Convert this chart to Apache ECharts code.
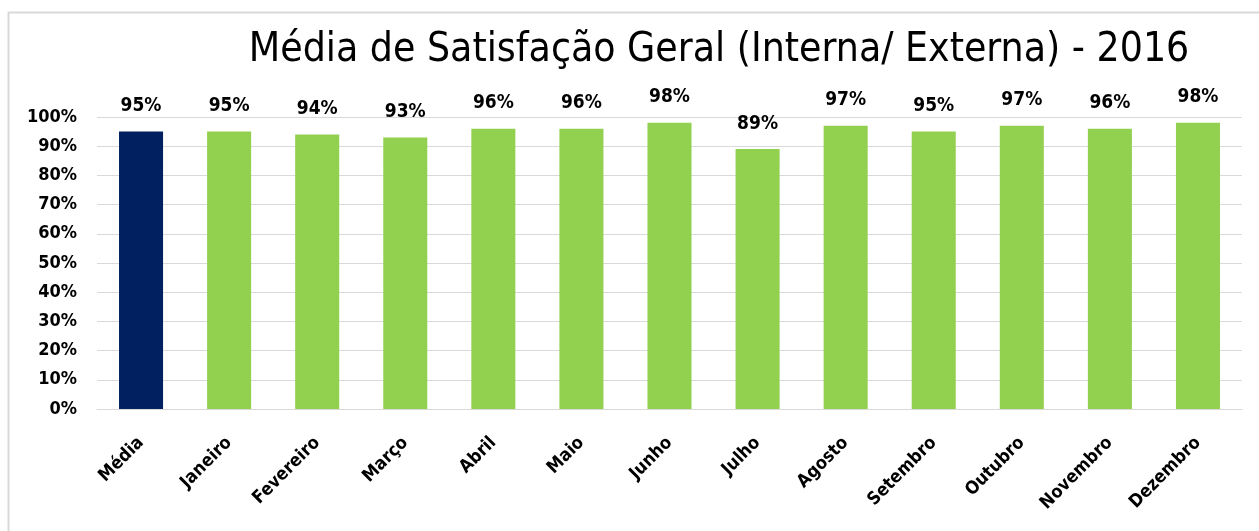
<!DOCTYPE html>
<html>
<head>
<meta charset="utf-8">
<script src="https://cdn.jsdelivr.net/npm/echarts@6/dist/echarts.min.js"></script>
<style>
  html, body { margin: 0; padding: 0; background: #fff; }
  #chart { width: 1259px; height: 531px; }
</style>
</head>
<body>
<div id="chart"></div>
<script>
// dados do gráfico
const categories = ['Média', 'Janeiro', 'Fevereiro', 'Março', 'Abril', 'Maio', 'Junho',
  'Julho', 'Agosto', 'Setembro', 'Outubro', 'Novembro', 'Dezembro']
const satisfacao = [95, 95, 94, 93, 96, 96, 98, 89, 97, 95, 97, 96, 98]
const yTicks = [0, 10, 20, 30, 40, 50, 60, 70, 80, 90, 100]

const corMedia = '#002060'
const corMes = '#92D050'
const fonte = '"DejaVu Sans Condensed", "DejaVu Sans", Verdana, sans-serif'

const chart = echarts.init(document.getElementById('chart'))

const option = {
  backgroundColor: '#fff',
  animation: false,
  graphic: [{
    type: 'rect',
    shape: { x: 8.5, y: 12.5, width: 1300, height: 600 },
    style: { fill: 'none', stroke: '#d9d9d9', lineWidth: 2 },
    silent: true
  }],
  title: {
    text: 'Média de Satisfação Geral (Interna/ Externa) - 2016',
    left: 714,
    top: 25,
    textAlign: 'center',
    textStyle: {
      fontFamily: fonte,
      fontWeight: 'normal',
      fontSize: 40.5,
      color: '#000'
    }
  },
  grid: {
    left: 97,
    right: 17,
    top: 117,
    bottom: 122,
    containLabel: false
  },
  xAxis: {
    type: 'category',
    data: categories,
    axisLine: { lineStyle: { color: '#d9d9d9', width: 1 } },
    axisTick: { show: false },
    axisLabel: {
      rotate: 45,
      margin: 31,
      interval: 0,
      color: '#000',
      fontFamily: fonte,
      fontWeight: 'bold',
      fontSize: 18
    }
  },
  yAxis: {
    type: 'value',
    min: yTicks[0],
    max: yTicks[yTicks.length - 1],
    interval: yTicks[1] - yTicks[0],
    axisLine: { show: false },
    axisTick: { show: false },
    splitLine: { lineStyle: { color: '#d9d9d9', width: 1 } },
    axisLabel: {
      formatter: '{value}%',
      margin: 20,
      color: '#000',
      fontFamily: fonte,
      fontWeight: 'bold',
      fontSize: 18
    }
  },
  series: [{
    type: 'bar',
    barWidth: '50%',
    data: satisfacao.map((v, i) => ({
      value: v,
      itemStyle: { color: i === 0 ? corMedia : corMes }
    })),
    label: {
      show: true,
      position: 'top',
      distance: 16,
      formatter: '{c}%',
      color: '#000',
      fontFamily: fonte,
      fontWeight: 'bold',
      fontSize: 19
    }
  }]
}

chart.setOption(option)
</script>
</body>
</html>
